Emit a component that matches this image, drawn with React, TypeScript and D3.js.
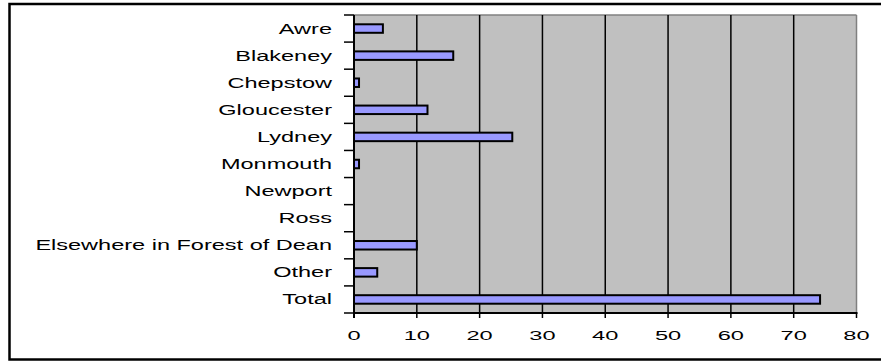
import React from "react";
import * as d3 from "d3";

const categories = [
  "Awre",
  "Blakeney",
  "Chepstow",
  "Gloucester",
  "Lydney",
  "Monmouth",
  "Newport",
  "Ross",
  "Elsewhere in Forest of Dean",
  "Other",
  "Total",
];
const values = [4.6, 15.8, 0.8, 11.7, 25.2, 0.8, 0, 0, 10, 3.7, 74.2];
const xTicks = [0, 10, 20, 30, 40, 50, 60, 70, 80];

const W = 881;
const H = 362;
const left = 354;
const right = 856.5;
const top = 15;
const bottom = 313;

export default function App() {
  const x = d3.scaleLinear().domain([0, 80]).range([left, right]);
  const y = d3.scaleBand<string>().domain(categories).range([top, bottom]).paddingInner(0).paddingOuter(0);
  const bw = y.bandwidth();
  const barH = 8.5;
  const boundaries = d3.range(categories.length + 1).map((i) => top + i * bw);
  const font = "'Liberation Sans', Arial, sans-serif";

  return (
    <svg
      width={W}
      height={H}
      style={{ position: "absolute", left: 0, top: 0, background: "#fff" }}
    >
      {/* outer frame */}
      <rect x={9.5} y={4} width={900} height={355.5} fill="none" stroke="#000" strokeWidth={2.5} />
      {/* plot area */}
      <rect x={left} y={top} width={right - left} height={bottom - top} fill="#C0C0C0" />
      <line x1={left} x2={right} y1={top} y2={top} stroke="#808080" strokeWidth={1.5} />
      <line x1={right} x2={right} y1={top} y2={bottom} stroke="#808080" strokeWidth={1.5} />
      {/* grid lines */}
      {xTicks.slice(1, -1).map((t) => (
        <line key={t} x1={x(t)} x2={x(t)} y1={top} y2={bottom} stroke="#000" strokeWidth={1.5} />
      ))}
      {/* bars */}
      {categories.map((c, i) =>
        values[i] > 0 ? (
          <rect
            key={c}
            x={x(0)}
            y={(y(c) as number) + bw / 2 - barH / 2}
            width={x(values[i]) - x(0)}
            height={barH}
            fill="#9999FF"
            stroke="#000"
            strokeWidth={2}
          />
        ) : null
      )}
      {/* axes */}
      <line x1={left} x2={left} y1={top} y2={bottom + 5} stroke="#000" strokeWidth={2} />
      <line x1={left} x2={right + 1} y1={bottom} y2={bottom} stroke="#000" strokeWidth={2} />
      {boundaries.map((b, i) => (
        <line key={i} x1={left - 10} x2={left} y1={b} y2={b} stroke="#000" strokeWidth={1.5} />
      ))}
      {xTicks.map((t) => (
        <line key={t} x1={x(t)} x2={x(t)} y1={bottom} y2={bottom + 5} stroke="#000" strokeWidth={1.5} />
      ))}
      {/* category labels */}
      {categories.map((c) => (
        <text
          key={c}
          transform={`translate(332,${(y(c) as number) + bw / 2 + 5}) scale(1.68,1)`}
          textAnchor="end"
          fontFamily={font}
          fontSize={14}
          fill="#000"
        >
          {c}
        </text>
      ))}
      {/* x tick labels */}
      {xTicks.map((t) => (
        <text
          key={t}
          transform={`translate(${x(t)},339.5) scale(1.75,1)`}
          textAnchor="middle"
          fontFamily={font}
          fontSize={13.5}
          fill="#000"
        >
          {t}
        </text>
      ))}
    </svg>
  );
}
